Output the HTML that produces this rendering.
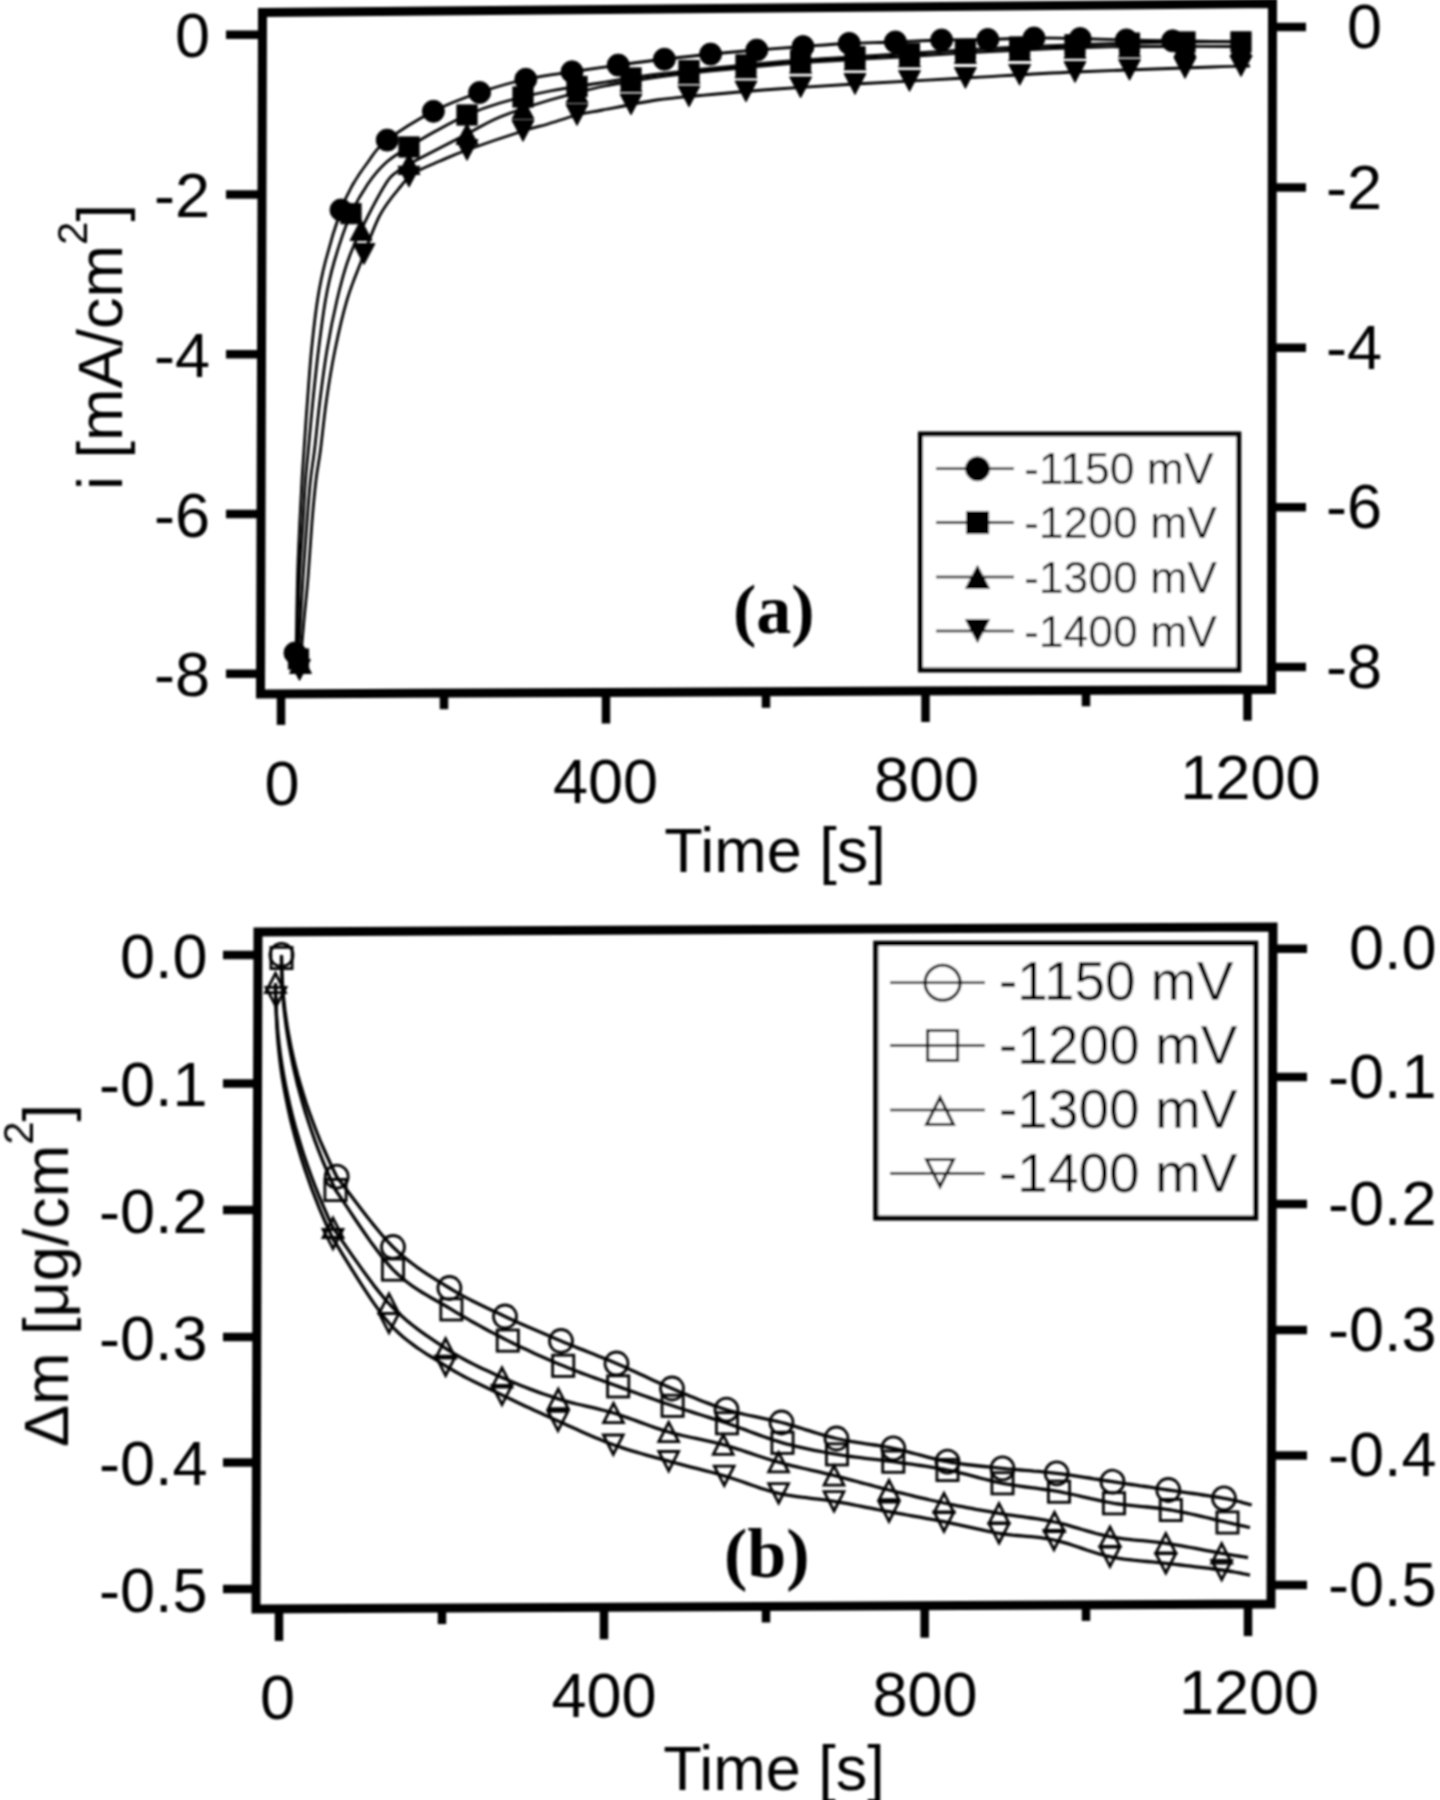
<!DOCTYPE html><html><head><meta charset="utf-8"><title>Figure</title><style>html,body{margin:0;padding:0;background:#fff;}svg{display:block}text{font-family:"Liberation Sans",Arial,sans-serif;fill:#000}.ser{font-family:"Liberation Serif","Times New Roman",serif;font-weight:bold}</style></head><body>
<svg width="1440" height="1800" viewBox="0 0 1440 1800">
<defs><filter id="soft" x="0" y="0" width="100%" height="100%"><feGaussianBlur stdDeviation="1"/></filter></defs>
<rect width="1440" height="1800" fill="#fff"/>
<g filter="url(#soft)">
<path d="M262.5,12.5 L1272.5,3.5 L1271.5,689.5 L260.5,694.0 Z" fill="none" stroke="#000" stroke-width="9.0" stroke-linejoin="miter"/>
<line x1="226.0" y1="34.7" x2="261.9" y2="34.7" stroke="#000" stroke-width="8.5" stroke-linecap="butt"/>
<text x="210.0" y="57.2" font-size="63.0" text-anchor="end">0</text>
<line x1="226.0" y1="194.4" x2="261.5" y2="194.4" stroke="#000" stroke-width="8.5" stroke-linecap="butt"/>
<text x="210.0" y="216.9" font-size="63.0" text-anchor="end">-2</text>
<line x1="226.0" y1="354.2" x2="261.0" y2="354.2" stroke="#000" stroke-width="8.5" stroke-linecap="butt"/>
<text x="210.0" y="376.7" font-size="63.0" text-anchor="end">-4</text>
<line x1="226.0" y1="514.0" x2="260.5" y2="514.0" stroke="#000" stroke-width="8.5" stroke-linecap="butt"/>
<text x="210.0" y="536.5" font-size="63.0" text-anchor="end">-6</text>
<line x1="226.0" y1="673.8" x2="260.1" y2="673.8" stroke="#000" stroke-width="8.5" stroke-linecap="butt"/>
<text x="210.0" y="696.3" font-size="63.0" text-anchor="end">-8</text>
<line x1="1272.0" y1="27.0" x2="1306.0" y2="27.0" stroke="#000" stroke-width="8.5" stroke-linecap="butt"/>
<text x="1382.0" y="48.0" font-size="63.0" text-anchor="end">0</text>
<line x1="1271.7" y1="187.5" x2="1306.0" y2="187.5" stroke="#000" stroke-width="8.5" stroke-linecap="butt"/>
<text x="1382.0" y="208.5" font-size="63.0" text-anchor="end">-2</text>
<line x1="1271.5" y1="347.8" x2="1306.0" y2="347.8" stroke="#000" stroke-width="8.5" stroke-linecap="butt"/>
<text x="1382.0" y="368.8" font-size="63.0" text-anchor="end">-4</text>
<line x1="1271.3" y1="507.2" x2="1306.0" y2="507.2" stroke="#000" stroke-width="8.5" stroke-linecap="butt"/>
<text x="1382.0" y="528.2" font-size="63.0" text-anchor="end">-6</text>
<line x1="1271.0" y1="667.0" x2="1306.0" y2="667.0" stroke="#000" stroke-width="8.5" stroke-linecap="butt"/>
<text x="1382.0" y="688.0" font-size="63.0" text-anchor="end">-8</text>
<line x1="281.0" y1="693.9" x2="281.0" y2="724.9" stroke="#000" stroke-width="8.5" stroke-linecap="butt"/>
<line x1="444.0" y1="693.2" x2="444.0" y2="709.2" stroke="#000" stroke-width="8.5" stroke-linecap="butt"/>
<line x1="606.0" y1="692.5" x2="606.0" y2="723.5" stroke="#000" stroke-width="8.5" stroke-linecap="butt"/>
<line x1="766.0" y1="691.8" x2="766.0" y2="707.8" stroke="#000" stroke-width="8.5" stroke-linecap="butt"/>
<line x1="925.5" y1="691.0" x2="925.5" y2="722.0" stroke="#000" stroke-width="8.5" stroke-linecap="butt"/>
<line x1="1086.0" y1="690.3" x2="1086.0" y2="706.3" stroke="#000" stroke-width="8.5" stroke-linecap="butt"/>
<line x1="1247.5" y1="689.6" x2="1247.5" y2="720.6" stroke="#000" stroke-width="8.5" stroke-linecap="butt"/>
<text x="282.0" y="805.0" font-size="63.0" text-anchor="middle">0</text>
<text x="605.6" y="802.8" font-size="63.0" text-anchor="middle">400</text>
<text x="926.5" y="800.7" font-size="63.0" text-anchor="middle">800</text>
<text x="1250.4" y="798.5" font-size="63.0" text-anchor="middle">1200</text>
<text x="775.0" y="872.0" font-size="63.0" text-anchor="middle">Time [s]</text>
<text transform="translate(122,347) rotate(-90)" x="0" y="0" font-size="63" text-anchor="middle">i [mA/cm<tspan font-size="42" dy="-35">2</tspan><tspan dy="35">]</tspan></text>
<path d="M296.0,657.0 C296.2,643.8 296.9,600.5 297.5,578.0 C298.1,555.5 299.1,538.3 299.8,522.0 C300.6,505.7 301.3,492.0 302.0,480.0 C302.7,468.0 303.1,463.3 304.0,450.0 C304.9,436.7 306.2,416.7 307.5,400.0 C308.8,383.3 309.8,366.7 311.5,350.0 C313.2,333.3 315.2,314.8 317.5,300.0 C319.8,285.2 321.6,276.0 325.5,261.0 C329.4,246.0 336.6,222.5 341.0,210.0 C345.4,197.5 347.5,194.0 352.0,186.0 C356.5,178.0 362.3,169.5 368.0,162.0 C373.7,154.5 375.0,149.5 386.0,141.0 C397.0,132.5 418.2,119.2 434.0,111.0 C449.8,102.8 465.5,97.3 481.0,92.0 C496.5,86.7 511.5,82.4 527.0,79.0 C542.5,75.6 558.7,73.8 574.0,71.5 C589.3,69.2 603.7,67.1 619.0,65.0 C634.3,62.9 650.5,60.8 666.0,59.0 C681.5,57.2 696.7,55.5 712.0,54.0 C727.3,52.5 742.7,51.2 758.0,50.0 C773.3,48.8 789.0,47.6 804.0,46.5 C819.0,45.4 833.0,44.2 848.0,43.5 C863.0,42.8 878.3,42.6 894.0,42.0 C909.7,41.4 926.5,40.4 942.0,40.0 C957.5,39.6 972.2,39.8 987.0,39.5 C1001.8,39.2 1016.2,38.2 1031.0,38.0 C1045.8,37.8 1059.5,38.2 1076.0,38.5 C1092.5,38.8 1111.8,39.6 1130.0,40.0 C1148.2,40.4 1165.0,40.7 1185.0,41.0 C1205.0,41.3 1239.2,41.8 1250.0,42.0" fill="none" stroke="#000" stroke-width="2.8" stroke-linejoin="round"/>
<path d="M297.0,660.0 C297.4,646.3 298.5,601.0 299.5,578.0 C300.5,555.0 302.0,538.3 303.0,522.0 C304.0,505.7 304.6,492.0 305.5,480.0 C306.4,468.0 307.1,463.3 308.3,450.0 C309.6,436.7 311.3,416.7 313.0,400.0 C314.7,383.3 316.4,366.7 318.5,350.0 C320.6,333.3 322.9,314.8 325.5,300.0 C328.1,285.2 330.3,275.0 334.4,261.0 C338.5,247.0 344.4,228.8 350.0,216.0 C355.6,203.2 361.7,193.0 367.8,184.0 C373.9,175.0 379.8,168.2 386.7,162.0 C393.6,155.8 401.1,152.0 409.0,147.0 C416.9,142.0 424.3,137.3 434.0,132.0 C443.7,126.7 456.0,119.8 467.0,115.0 C478.0,110.2 486.2,107.0 500.0,103.0 C513.8,99.0 533.3,94.3 550.0,91.0 C566.7,87.7 583.2,85.7 600.0,83.0 C616.8,80.3 634.3,77.2 651.0,75.0 C667.7,72.8 678.8,71.7 700.0,69.5 C721.2,67.3 756.7,63.8 778.0,62.0 C799.3,60.2 807.7,59.8 828.0,58.5 C848.3,57.2 871.3,55.8 900.0,54.0 C928.7,52.2 966.7,49.7 1000.0,48.0 C1033.3,46.3 1069.2,45.0 1100.0,44.0 C1130.8,43.0 1160.0,42.3 1185.0,42.0 C1210.0,41.7 1239.2,42.0 1250.0,42.0" fill="none" stroke="#000" stroke-width="2.8" stroke-linejoin="round"/>
<path d="M298.0,663.0 C298.8,648.8 301.5,601.5 303.0,578.0 C304.5,554.5 305.8,538.3 307.0,522.0 C308.2,505.7 309.2,492.0 310.5,480.0 C311.8,468.0 312.9,463.3 314.5,450.0 C316.1,436.7 317.9,416.7 320.0,400.0 C322.1,383.3 324.2,366.7 327.0,350.0 C329.8,333.3 333.5,314.8 337.0,300.0 C340.5,285.2 343.6,273.0 347.8,261.0 C352.0,249.0 355.7,240.8 362.0,228.0 C368.3,215.2 379.8,193.3 385.6,184.0 C391.4,174.7 392.5,175.5 396.7,172.0 C400.9,168.5 399.3,169.3 411.0,163.0 C422.7,156.7 452.2,141.7 467.0,134.0 C481.8,126.3 486.2,122.7 500.0,117.0 C513.8,111.3 533.3,105.0 550.0,100.0 C566.7,95.0 583.2,90.7 600.0,87.0 C616.8,83.3 634.3,80.5 651.0,78.0 C667.7,75.5 678.8,74.2 700.0,72.0 C721.2,69.8 756.7,66.3 778.0,64.5 C799.3,62.7 807.7,62.2 828.0,61.0 C848.3,59.8 871.3,58.7 900.0,57.0 C928.7,55.3 966.7,52.7 1000.0,51.0 C1033.3,49.3 1069.2,47.8 1100.0,47.0 C1130.8,46.2 1160.0,46.6 1185.0,46.5 C1210.0,46.4 1239.2,46.5 1250.0,46.5" fill="none" stroke="#000" stroke-width="2.8" stroke-linejoin="round"/>
<path d="M300.0,666.0 C300.7,658.3 302.7,634.7 304.0,620.0 C305.3,605.3 306.7,594.3 308.0,578.0 C309.3,561.7 310.7,538.3 312.0,522.0 C313.3,505.7 314.6,492.0 316.0,480.0 C317.4,468.0 318.8,463.3 320.5,450.0 C322.2,436.7 324.1,416.7 326.5,400.0 C328.9,383.3 331.6,366.7 335.0,350.0 C338.4,333.3 342.7,314.7 347.0,300.0 C351.3,285.3 355.5,276.2 361.0,262.0 C366.5,247.8 373.3,227.7 380.0,215.0 C386.7,202.3 395.3,193.0 401.0,186.0 C406.7,179.0 407.5,177.2 414.0,173.0 C420.5,168.8 431.2,164.8 440.0,161.0 C448.8,157.2 453.2,155.0 467.0,150.0 C480.8,145.0 509.5,135.3 523.0,131.0 C536.5,126.7 539.0,126.7 548.0,124.0 C557.0,121.3 567.9,117.3 577.0,115.0 C586.1,112.7 589.2,112.5 602.5,110.0 C615.8,107.5 640.4,102.4 656.6,100.0 C672.9,97.6 679.9,97.3 700.0,95.5 C720.1,93.7 751.2,90.9 777.0,89.0 C802.8,87.1 823.7,85.8 855.0,84.0 C886.3,82.2 928.3,80.0 965.0,78.0 C1001.7,76.0 1033.8,73.8 1075.0,72.0 C1116.2,70.2 1182.8,68.0 1212.0,67.0 C1241.2,66.0 1243.7,66.2 1250.0,66.0" fill="none" stroke="#000" stroke-width="2.8" stroke-linejoin="round"/>
<polygon points="299.5,680.5 310.5,659.5 288.5,659.5" fill="#000" stroke="#000" stroke-width="1.0" stroke-linejoin="miter"/>
<polygon points="300.5,652.5 311.5,673.5 289.5,673.5" fill="#000" stroke="#000" stroke-width="1.0" stroke-linejoin="miter"/>
<rect x="288.4" y="648.9" width="20.2" height="20.2" fill="#000" stroke="#000" stroke-width="1.0"/>
<circle cx="295.0" cy="653.0" r="11.0" fill="#000" stroke="#000" stroke-width="1.0"/>
<polygon points="364.0,264.5 375.0,243.6 353.0,243.6" fill="#000" stroke="#000" stroke-width="1.0" stroke-linejoin="miter"/>
<polygon points="361.0,219.6 372.0,240.5 350.0,240.5" fill="#000" stroke="#000" stroke-width="1.0" stroke-linejoin="miter"/>
<rect x="340.9" y="203.6" width="20.2" height="20.2" fill="#000" stroke="#000" stroke-width="1.0"/>
<polygon points="409.0,187.1 420.0,166.2 398.0,166.2" fill="#000" stroke="#000" stroke-width="1.0" stroke-linejoin="miter"/>
<polygon points="409.0,153.6 420.0,174.5 398.0,174.5" fill="#000" stroke="#000" stroke-width="1.0" stroke-linejoin="miter"/>
<rect x="398.9" y="136.9" width="20.2" height="20.2" fill="#000" stroke="#000" stroke-width="1.0"/>
<polygon points="467.0,160.4 478.0,139.6 456.0,139.6" fill="#000" stroke="#000" stroke-width="1.0" stroke-linejoin="miter"/>
<polygon points="467.0,123.5 478.0,144.4 456.0,144.4" fill="#000" stroke="#000" stroke-width="1.0" stroke-linejoin="miter"/>
<rect x="456.9" y="104.9" width="20.2" height="20.2" fill="#000" stroke="#000" stroke-width="1.0"/>
<polygon points="523.0,141.4 534.0,120.5 512.0,120.5" fill="#000" stroke="#000" stroke-width="1.0" stroke-linejoin="miter"/>
<polygon points="523.0,98.1 534.0,119.0 512.0,119.0" fill="#000" stroke="#000" stroke-width="1.0" stroke-linejoin="miter"/>
<rect x="512.9" y="86.9" width="20.2" height="20.2" fill="#000" stroke="#000" stroke-width="1.0"/>
<polygon points="577.0,125.5 588.0,104.5 566.0,104.5" fill="#000" stroke="#000" stroke-width="1.0" stroke-linejoin="miter"/>
<polygon points="577.0,82.0 588.0,102.9 566.0,102.9" fill="#000" stroke="#000" stroke-width="1.0" stroke-linejoin="miter"/>
<rect x="566.9" y="76.3" width="20.2" height="20.2" fill="#000" stroke="#000" stroke-width="1.0"/>
<polygon points="631.0,114.9 642.0,94.0 620.0,94.0" fill="#000" stroke="#000" stroke-width="1.0" stroke-linejoin="miter"/>
<polygon points="631.0,70.7 642.0,91.6 620.0,91.6" fill="#000" stroke="#000" stroke-width="1.0" stroke-linejoin="miter"/>
<rect x="620.9" y="67.9" width="20.2" height="20.2" fill="#000" stroke="#000" stroke-width="1.0"/>
<polygon points="689.0,106.9 700.0,86.0 678.0,86.0" fill="#000" stroke="#000" stroke-width="1.0" stroke-linejoin="miter"/>
<polygon points="689.0,62.7 700.0,83.6 678.0,83.6" fill="#000" stroke="#000" stroke-width="1.0" stroke-linejoin="miter"/>
<rect x="678.9" y="60.5" width="20.2" height="20.2" fill="#000" stroke="#000" stroke-width="1.0"/>
<polygon points="746.0,101.9 757.0,81.0 735.0,81.0" fill="#000" stroke="#000" stroke-width="1.0" stroke-linejoin="miter"/>
<polygon points="746.0,57.0 757.0,77.9 735.0,77.9" fill="#000" stroke="#000" stroke-width="1.0" stroke-linejoin="miter"/>
<rect x="735.9" y="54.8" width="20.2" height="20.2" fill="#000" stroke="#000" stroke-width="1.0"/>
<polygon points="800.6,97.8 811.6,76.9 789.6,76.9" fill="#000" stroke="#000" stroke-width="1.0" stroke-linejoin="miter"/>
<polygon points="800.6,52.3 811.6,73.2 789.6,73.2" fill="#000" stroke="#000" stroke-width="1.0" stroke-linejoin="miter"/>
<rect x="790.5" y="50.1" width="20.2" height="20.2" fill="#000" stroke="#000" stroke-width="1.0"/>
<polygon points="855.0,94.5 866.0,73.5 844.0,73.5" fill="#000" stroke="#000" stroke-width="1.0" stroke-linejoin="miter"/>
<polygon points="855.0,49.0 866.0,69.9 844.0,69.9" fill="#000" stroke="#000" stroke-width="1.0" stroke-linejoin="miter"/>
<rect x="844.9" y="46.7" width="20.2" height="20.2" fill="#000" stroke="#000" stroke-width="1.0"/>
<polygon points="909.5,91.4 920.5,70.5 898.5,70.5" fill="#000" stroke="#000" stroke-width="1.0" stroke-linejoin="miter"/>
<polygon points="909.5,46.0 920.5,66.9 898.5,66.9" fill="#000" stroke="#000" stroke-width="1.0" stroke-linejoin="miter"/>
<rect x="899.4" y="43.3" width="20.2" height="20.2" fill="#000" stroke="#000" stroke-width="1.0"/>
<polygon points="965.4,88.4 976.4,67.5 954.4,67.5" fill="#000" stroke="#000" stroke-width="1.0" stroke-linejoin="miter"/>
<polygon points="965.4,42.5 976.4,63.4 954.4,63.4" fill="#000" stroke="#000" stroke-width="1.0" stroke-linejoin="miter"/>
<rect x="955.3" y="39.8" width="20.2" height="20.2" fill="#000" stroke="#000" stroke-width="1.0"/>
<polygon points="1019.7,85.3 1030.7,64.4 1008.7,64.4" fill="#000" stroke="#000" stroke-width="1.0" stroke-linejoin="miter"/>
<polygon points="1019.7,39.6 1030.7,60.5 1008.7,60.5" fill="#000" stroke="#000" stroke-width="1.0" stroke-linejoin="miter"/>
<rect x="1009.6" y="36.9" width="20.2" height="20.2" fill="#000" stroke="#000" stroke-width="1.0"/>
<polygon points="1075.0,82.5 1086.0,61.5 1064.0,61.5" fill="#000" stroke="#000" stroke-width="1.0" stroke-linejoin="miter"/>
<polygon points="1075.0,37.3 1086.0,58.2 1064.0,58.2" fill="#000" stroke="#000" stroke-width="1.0" stroke-linejoin="miter"/>
<rect x="1064.9" y="34.7" width="20.2" height="20.2" fill="#000" stroke="#000" stroke-width="1.0"/>
<polygon points="1129.5,80.3 1140.5,59.4 1118.5,59.4" fill="#000" stroke="#000" stroke-width="1.0" stroke-linejoin="miter"/>
<polygon points="1129.5,36.1 1140.5,57.0 1118.5,57.0" fill="#000" stroke="#000" stroke-width="1.0" stroke-linejoin="miter"/>
<rect x="1119.4" y="33.0" width="20.2" height="20.2" fill="#000" stroke="#000" stroke-width="1.0"/>
<polygon points="1185.0,78.4 1196.0,57.5 1174.0,57.5" fill="#000" stroke="#000" stroke-width="1.0" stroke-linejoin="miter"/>
<polygon points="1185.0,36.0 1196.0,57.0 1174.0,57.0" fill="#000" stroke="#000" stroke-width="1.0" stroke-linejoin="miter"/>
<rect x="1174.9" y="31.9" width="20.2" height="20.2" fill="#000" stroke="#000" stroke-width="1.0"/>
<polygon points="1241.0,76.6 1252.0,55.7 1230.0,55.7" fill="#000" stroke="#000" stroke-width="1.0" stroke-linejoin="miter"/>
<polygon points="1241.0,36.0 1252.0,56.9 1230.0,56.9" fill="#000" stroke="#000" stroke-width="1.0" stroke-linejoin="miter"/>
<rect x="1230.9" y="31.8" width="20.2" height="20.2" fill="#000" stroke="#000" stroke-width="1.0"/>
<circle cx="341.0" cy="210.0" r="11.0" fill="#000" stroke="#000" stroke-width="1.0"/>
<circle cx="387.2" cy="140.1" r="11.0" fill="#000" stroke="#000" stroke-width="1.0"/>
<circle cx="433.4" cy="111.3" r="11.0" fill="#000" stroke="#000" stroke-width="1.0"/>
<circle cx="479.6" cy="92.5" r="11.0" fill="#000" stroke="#000" stroke-width="1.0"/>
<circle cx="525.8" cy="79.3" r="11.0" fill="#000" stroke="#000" stroke-width="1.0"/>
<circle cx="572.0" cy="71.8" r="11.0" fill="#000" stroke="#000" stroke-width="1.0"/>
<circle cx="618.2" cy="65.1" r="11.0" fill="#000" stroke="#000" stroke-width="1.0"/>
<circle cx="664.4" cy="59.2" r="11.0" fill="#000" stroke="#000" stroke-width="1.0"/>
<circle cx="710.6" cy="54.1" r="11.0" fill="#000" stroke="#000" stroke-width="1.0"/>
<circle cx="756.8" cy="50.1" r="11.0" fill="#000" stroke="#000" stroke-width="1.0"/>
<circle cx="803.0" cy="46.6" r="11.0" fill="#000" stroke="#000" stroke-width="1.0"/>
<circle cx="849.2" cy="43.4" r="11.0" fill="#000" stroke="#000" stroke-width="1.0"/>
<circle cx="895.4" cy="41.9" r="11.0" fill="#000" stroke="#000" stroke-width="1.0"/>
<circle cx="941.6" cy="40.0" r="11.0" fill="#000" stroke="#000" stroke-width="1.0"/>
<circle cx="987.8" cy="39.5" r="11.0" fill="#000" stroke="#000" stroke-width="1.0"/>
<circle cx="1034.0" cy="38.0" r="11.0" fill="#000" stroke="#000" stroke-width="1.0"/>
<circle cx="1080.2" cy="38.6" r="11.0" fill="#000" stroke="#000" stroke-width="1.0"/>
<circle cx="1126.4" cy="39.9" r="11.0" fill="#000" stroke="#000" stroke-width="1.0"/>
<circle cx="1172.6" cy="40.8" r="11.0" fill="#000" stroke="#000" stroke-width="1.0"/>
<rect x="920.4" y="434" width="318.4" height="236" fill="#fff" stroke="#000" stroke-width="5"/>
<line x1="936.0" y1="468.8" x2="1014.0" y2="468.8" stroke="#000" stroke-width="2.6" stroke-linecap="butt"/>
<circle cx="977.5" cy="468.8" r="12.0" fill="#000" stroke="#000" stroke-width="1.0"/>
<text x="1024.0" y="484.2" font-size="44.5" text-anchor="start">-1150 mV</text>
<line x1="936.0" y1="522.5" x2="1014.0" y2="522.5" stroke="#000" stroke-width="2.6" stroke-linecap="butt"/>
<rect x="966.5" y="511.5" width="22.1" height="22.1" fill="#000" stroke="#000" stroke-width="1.0"/>
<text x="1024.0" y="538.0" font-size="44.5" text-anchor="start">-1200 mV</text>
<line x1="936.0" y1="577.0" x2="1014.0" y2="577.0" stroke="#000" stroke-width="2.6" stroke-linecap="butt"/>
<polygon points="977.5,565.6 989.5,588.4 965.5,588.4" fill="#000" stroke="#000" stroke-width="1.0" stroke-linejoin="miter"/>
<text x="1024.0" y="592.5" font-size="44.5" text-anchor="start">-1300 mV</text>
<line x1="936.0" y1="631.0" x2="1014.0" y2="631.0" stroke="#000" stroke-width="2.6" stroke-linecap="butt"/>
<polygon points="977.5,642.4 989.5,619.6 965.5,619.6" fill="#000" stroke="#000" stroke-width="1.0" stroke-linejoin="miter"/>
<text x="1024.0" y="646.5" font-size="44.5" text-anchor="start">-1400 mV</text>
<text class="ser" x="733" y="633" font-size="70">(a)</text>
<path d="M258.0,932.0 L1273.0,927.0 L1271.0,1604.0 L256.0,1609.0 Z" fill="none" stroke="#000" stroke-width="9.0" stroke-linejoin="miter"/>
<line x1="223.0" y1="955.0" x2="257.9" y2="955.0" stroke="#000" stroke-width="8.5" stroke-linecap="butt"/>
<text x="207.5" y="977.5" font-size="63.0" text-anchor="end">0.0</text>
<line x1="223.0" y1="1083.5" x2="257.6" y2="1083.5" stroke="#000" stroke-width="8.5" stroke-linecap="butt"/>
<text x="207.5" y="1106.0" font-size="63.0" text-anchor="end">-0.1</text>
<line x1="223.0" y1="1210.0" x2="257.2" y2="1210.0" stroke="#000" stroke-width="8.5" stroke-linecap="butt"/>
<text x="207.5" y="1232.5" font-size="63.0" text-anchor="end">-0.2</text>
<line x1="223.0" y1="1337.0" x2="256.8" y2="1337.0" stroke="#000" stroke-width="8.5" stroke-linecap="butt"/>
<text x="207.5" y="1359.5" font-size="63.0" text-anchor="end">-0.3</text>
<line x1="223.0" y1="1462.5" x2="256.4" y2="1462.5" stroke="#000" stroke-width="8.5" stroke-linecap="butt"/>
<text x="207.5" y="1485.0" font-size="63.0" text-anchor="end">-0.4</text>
<line x1="223.0" y1="1589.0" x2="256.1" y2="1589.0" stroke="#000" stroke-width="8.5" stroke-linecap="butt"/>
<text x="207.5" y="1611.5" font-size="63.0" text-anchor="end">-0.5</text>
<line x1="1272.9" y1="948.7" x2="1307.0" y2="948.7" stroke="#000" stroke-width="8.5" stroke-linecap="butt"/>
<text x="1436.5" y="969.2" font-size="63.0" text-anchor="end">0.0</text>
<line x1="1272.6" y1="1077.0" x2="1307.0" y2="1077.0" stroke="#000" stroke-width="8.5" stroke-linecap="butt"/>
<text x="1436.5" y="1097.5" font-size="63.0" text-anchor="end">-0.1</text>
<line x1="1272.2" y1="1204.0" x2="1307.0" y2="1204.0" stroke="#000" stroke-width="8.5" stroke-linecap="butt"/>
<text x="1436.5" y="1224.5" font-size="63.0" text-anchor="end">-0.2</text>
<line x1="1271.8" y1="1330.0" x2="1307.0" y2="1330.0" stroke="#000" stroke-width="8.5" stroke-linecap="butt"/>
<text x="1436.5" y="1350.5" font-size="63.0" text-anchor="end">-0.3</text>
<line x1="1271.4" y1="1455.4" x2="1307.0" y2="1455.4" stroke="#000" stroke-width="8.5" stroke-linecap="butt"/>
<text x="1436.5" y="1475.9" font-size="63.0" text-anchor="end">-0.4</text>
<line x1="1271.1" y1="1585.0" x2="1307.0" y2="1585.0" stroke="#000" stroke-width="8.5" stroke-linecap="butt"/>
<text x="1436.5" y="1605.5" font-size="63.0" text-anchor="end">-0.5</text>
<line x1="279.0" y1="1608.9" x2="279.0" y2="1640.9" stroke="#000" stroke-width="8.5" stroke-linecap="butt"/>
<line x1="442.0" y1="1608.1" x2="442.0" y2="1624.1" stroke="#000" stroke-width="8.5" stroke-linecap="butt"/>
<line x1="604.0" y1="1607.3" x2="604.0" y2="1639.3" stroke="#000" stroke-width="8.5" stroke-linecap="butt"/>
<line x1="766.0" y1="1606.5" x2="766.0" y2="1622.5" stroke="#000" stroke-width="8.5" stroke-linecap="butt"/>
<line x1="924.7" y1="1605.7" x2="924.7" y2="1637.7" stroke="#000" stroke-width="8.5" stroke-linecap="butt"/>
<line x1="1086.0" y1="1604.9" x2="1086.0" y2="1620.9" stroke="#000" stroke-width="8.5" stroke-linecap="butt"/>
<line x1="1248.0" y1="1604.1" x2="1248.0" y2="1636.1" stroke="#000" stroke-width="8.5" stroke-linecap="butt"/>
<text x="277.4" y="1719.0" font-size="63.0" text-anchor="middle">0</text>
<text x="604.0" y="1717.4" font-size="63.0" text-anchor="middle">400</text>
<text x="925.0" y="1715.8" font-size="63.0" text-anchor="middle">800</text>
<text x="1249.0" y="1714.2" font-size="63.0" text-anchor="middle">1200</text>
<text x="774.0" y="1790.0" font-size="63.0" text-anchor="middle">Time [s]</text>
<text transform="translate(68,1275.5) rotate(-90)" x="0" y="0" font-size="63" text-anchor="middle">Δm [μg/cm<tspan font-size="42" dy="-35">2</tspan><tspan dy="35">]</tspan></text>
<path d="M281.5,955.0 L281.6,964.2 L281.9,973.5 L282.4,982.7 L283.0,992.0 L283.9,1001.2 L284.9,1010.4 L286.2,1019.7 L287.6,1028.9 L289.3,1038.1 L291.1,1047.4 L293.1,1056.6 L295.3,1065.8 L297.7,1075.1 L300.3,1084.3 L303.1,1093.6 L306.0,1102.8 L309.2,1112.0 L312.6,1121.3 L316.1,1130.5 L319.8,1139.8 L323.8,1149.0 L327.9,1158.2 L332.2,1167.5 L336.7,1176.7 L339.4,1180.2 L342.8,1184.7 L346.8,1190.0 L351.3,1196.0 L356.2,1202.5 L361.3,1209.3 L366.7,1216.2 L372.1,1223.1 L377.6,1229.8 L383.0,1236.2 L388.1,1241.9 L393.0,1247.0 L397.7,1251.5 L402.4,1255.7 L407.1,1259.6 L411.8,1263.3 L416.5,1266.8 L421.2,1270.1 L426.0,1273.3 L430.7,1276.3 L435.4,1279.3 L440.0,1282.2 L444.7,1285.1 L449.4,1288.0 L454.1,1290.8 L458.7,1293.5 L463.3,1296.1 L468.0,1298.6 L472.6,1301.0 L477.2,1303.3 L481.8,1305.5 L486.5,1307.8 L491.1,1309.9 L495.7,1312.1 L500.4,1314.3 L505.0,1316.5 L509.7,1318.7 L514.3,1320.8 L519.0,1323.0 L523.7,1325.0 L528.3,1327.1 L533.0,1329.1 L537.7,1331.1 L542.4,1333.1 L547.0,1335.1 L551.7,1337.1 L556.3,1339.0 L561.0,1341.0 L565.6,1342.9 L570.3,1344.8 L574.9,1346.7 L579.5,1348.6 L584.2,1350.4 L588.8,1352.2 L593.4,1354.0 L598.0,1355.9 L602.6,1357.7 L607.3,1359.6 L611.9,1361.5 L616.5,1363.5 L621.1,1365.5 L625.8,1367.6 L630.4,1369.7 L635.0,1371.8 L639.7,1373.9 L644.3,1376.1 L648.9,1378.2 L653.6,1380.4 L658.2,1382.5 L662.8,1384.5 L667.4,1386.5 L672.0,1388.5 L676.6,1390.4 L681.1,1392.4 L685.7,1394.3 L690.2,1396.2 L694.8,1398.0 L699.3,1399.9 L703.8,1401.7 L708.3,1403.4 L712.9,1405.1 L717.4,1406.7 L721.9,1408.2 L726.5,1409.7 L731.1,1411.1 L735.6,1412.3 L740.2,1413.4 L744.8,1414.5 L749.4,1415.5 L754.0,1416.4 L758.6,1417.4 L763.1,1418.3 L767.7,1419.3 L772.3,1420.3 L776.9,1421.3 L781.5,1422.5 L786.1,1423.7 L790.6,1425.1 L795.2,1426.4 L799.8,1427.8 L804.3,1429.3 L808.9,1430.7 L813.5,1432.1 L818.0,1433.5 L822.6,1434.9 L827.2,1436.2 L831.9,1437.4 L836.5,1438.5 L841.2,1439.5 L845.9,1440.5 L850.6,1441.3 L855.4,1442.1 L860.2,1442.8 L864.9,1443.6 L869.7,1444.3 L874.5,1445.0 L879.2,1445.7 L884.0,1446.5 L888.7,1447.4 L893.3,1448.3 L897.9,1449.3 L902.5,1450.4 L907.0,1451.6 L911.5,1452.8 L916.0,1454.0 L920.5,1455.2 L925.0,1456.4 L929.5,1457.6 L934.0,1458.7 L938.5,1459.8 L943.0,1460.8 L947.5,1461.7 L952.1,1462.5 L956.6,1463.2 L961.2,1463.9 L965.8,1464.5 L970.4,1465.0 L975.0,1465.5 L979.6,1466.0 L984.2,1466.5 L988.8,1466.9 L993.4,1467.4 L997.9,1467.8 L1002.5,1468.3 L1007.0,1468.8 L1011.6,1469.2 L1016.1,1469.6 L1020.6,1470.0 L1025.1,1470.3 L1029.6,1470.7 L1034.0,1471.1 L1038.5,1471.4 L1043.1,1471.8 L1047.6,1472.3 L1052.1,1472.8 L1056.7,1473.3 L1061.3,1473.9 L1065.9,1474.5 L1070.5,1475.2 L1075.2,1475.9 L1079.8,1476.6 L1084.5,1477.3 L1089.2,1478.0 L1093.8,1478.8 L1098.5,1479.5 L1103.2,1480.3 L1107.8,1481.0 L1112.5,1481.7 L1117.2,1482.4 L1121.8,1483.1 L1126.5,1483.8 L1131.1,1484.5 L1135.8,1485.2 L1140.4,1485.9 L1145.1,1486.5 L1149.7,1487.2 L1154.4,1487.9 L1159.0,1488.6 L1163.7,1489.3 L1168.3,1490.0 L1173.0,1490.7 L1177.9,1491.4 L1182.9,1492.1 L1187.9,1492.8 L1192.9,1493.5 L1197.9,1494.2 L1202.8,1495.0 L1207.5,1495.7 L1212.0,1496.3 L1216.3,1497.0 L1220.3,1497.7 L1224.0,1498.3 L1227.4,1498.9 L1230.6,1499.6 L1233.5,1500.2 L1236.3,1500.9 L1238.9,1501.5 L1241.3,1502.2 L1243.5,1502.8 L1245.6,1503.3 L1247.4,1503.8 L1249.0,1504.3 L1250.5,1504.7 L1251.7,1505.0" fill="none" stroke="#000" stroke-width="3.3" stroke-linejoin="round"/>
<path d="M281.5,958.0 L281.6,967.7 L281.9,977.3 L282.3,987.0 L283.0,996.7 L283.8,1006.3 L284.9,1016.0 L286.1,1025.7 L287.5,1035.3 L289.1,1045.0 L290.9,1054.7 L292.8,1064.3 L295.0,1074.0 L297.3,1083.7 L299.9,1093.3 L302.6,1103.0 L305.5,1112.7 L308.6,1122.3 L311.9,1132.0 L315.3,1141.7 L319.0,1151.3 L322.8,1161.0 L326.9,1170.7 L331.1,1180.3 L335.5,1190.0 L338.3,1194.0 L341.7,1199.1 L345.8,1205.2 L350.4,1212.1 L355.3,1219.5 L360.6,1227.3 L366.1,1235.2 L371.6,1243.1 L377.2,1250.6 L382.7,1257.7 L388.0,1264.1 L393.0,1269.6 L397.8,1274.3 L402.7,1278.6 L407.6,1282.5 L412.5,1286.1 L417.4,1289.4 L422.3,1292.5 L427.2,1295.4 L432.0,1298.2 L436.9,1301.0 L441.8,1303.7 L446.6,1306.5 L451.4,1309.4 L456.2,1312.3 L460.9,1315.2 L465.7,1317.9 L470.4,1320.7 L475.1,1323.3 L479.8,1325.9 L484.5,1328.5 L489.1,1331.0 L493.8,1333.4 L498.5,1335.8 L503.1,1338.2 L507.8,1340.6 L512.5,1342.9 L517.1,1345.2 L521.7,1347.4 L526.4,1349.6 L531.0,1351.8 L535.6,1353.9 L540.2,1355.9 L544.8,1358.0 L549.4,1360.0 L554.0,1361.9 L558.6,1363.9 L563.2,1365.8 L567.8,1367.7 L572.4,1369.5 L577.0,1371.3 L581.6,1373.1 L586.2,1374.8 L590.8,1376.5 L595.3,1378.1 L599.9,1379.8 L604.5,1381.4 L609.1,1383.1 L613.6,1384.7 L618.2,1386.4 L622.8,1388.1 L627.3,1389.7 L631.8,1391.4 L636.4,1393.0 L640.9,1394.7 L645.4,1396.3 L650.0,1397.9 L654.5,1399.5 L659.0,1401.1 L663.5,1402.7 L668.1,1404.3 L672.6,1405.8 L677.1,1407.3 L681.7,1408.8 L686.2,1410.3 L690.7,1411.7 L695.2,1413.1 L699.7,1414.5 L704.3,1416.0 L708.8,1417.4 L713.3,1418.8 L717.9,1420.3 L722.4,1421.8 L727.0,1423.3 L731.6,1424.9 L736.2,1426.5 L740.8,1428.2 L745.5,1429.9 L750.1,1431.7 L754.7,1433.4 L759.4,1435.1 L764.0,1436.8 L768.7,1438.4 L773.3,1440.0 L777.9,1441.4 L782.5,1442.8 L787.1,1444.1 L791.6,1445.2 L796.2,1446.4 L800.7,1447.4 L805.2,1448.4 L809.7,1449.4 L814.2,1450.3 L818.7,1451.1 L823.3,1452.0 L827.8,1452.8 L832.4,1453.6 L837.0,1454.4 L841.6,1455.2 L846.3,1455.9 L851.0,1456.5 L855.7,1457.1 L860.4,1457.7 L865.2,1458.3 L869.9,1458.8 L874.6,1459.4 L879.3,1459.9 L884.0,1460.5 L888.7,1461.1 L893.3,1461.7 L897.9,1462.3 L902.4,1463.0 L907.0,1463.6 L911.5,1464.2 L916.0,1464.8 L920.5,1465.5 L925.0,1466.1 L929.5,1466.8 L933.9,1467.6 L938.4,1468.3 L943.0,1469.1 L947.5,1470.0 L952.1,1470.9 L956.6,1472.0 L961.2,1473.1 L965.7,1474.2 L970.3,1475.4 L974.9,1476.6 L979.4,1477.9 L984.0,1479.0 L988.6,1480.2 L993.2,1481.3 L997.9,1482.3 L1002.5,1483.3 L1007.2,1484.2 L1011.8,1484.9 L1016.6,1485.7 L1021.3,1486.3 L1026.0,1487.0 L1030.8,1487.6 L1035.5,1488.2 L1040.2,1488.8 L1044.9,1489.5 L1049.7,1490.2 L1054.3,1490.9 L1059.0,1491.7 L1063.6,1492.6 L1068.2,1493.5 L1072.8,1494.5 L1077.4,1495.5 L1081.9,1496.6 L1086.5,1497.6 L1091.0,1498.7 L1095.6,1499.7 L1100.2,1500.7 L1104.7,1501.6 L1109.4,1502.5 L1114.0,1503.3 L1118.7,1504.0 L1123.4,1504.6 L1128.1,1505.2 L1132.8,1505.7 L1137.5,1506.1 L1142.3,1506.6 L1147.0,1507.0 L1151.8,1507.5 L1156.6,1508.0 L1161.3,1508.6 L1166.1,1509.3 L1170.8,1510.0 L1175.6,1510.9 L1180.7,1511.8 L1185.8,1512.9 L1191.0,1514.0 L1196.2,1515.2 L1201.3,1516.4 L1206.3,1517.5 L1211.1,1518.7 L1215.7,1519.8 L1220.0,1520.8 L1224.0,1521.7 L1227.5,1522.5 L1230.6,1523.2 L1233.5,1523.8 L1236.1,1524.4 L1238.4,1524.9 L1240.4,1525.4 L1242.3,1525.8 L1244.0,1526.2 L1245.4,1526.5 L1246.8,1526.8 L1247.9,1527.0 L1249.0,1527.3 L1250.0,1527.5" fill="none" stroke="#000" stroke-width="3.3" stroke-linejoin="round"/>
<path d="M275.5,983.0 L275.6,993.2 L275.9,1003.4 L276.4,1013.6 L277.1,1023.8 L278.0,1034.0 L279.1,1044.2 L280.4,1054.4 L281.9,1064.6 L283.6,1074.8 L285.5,1085.0 L287.6,1095.2 L289.9,1105.4 L292.4,1115.6 L295.1,1125.8 L298.0,1136.0 L301.1,1146.2 L304.3,1156.4 L307.8,1166.6 L311.5,1176.8 L315.4,1187.0 L319.5,1197.2 L323.8,1207.4 L328.3,1217.6 L333.0,1227.8 L335.7,1231.6 L339.1,1236.4 L343.0,1242.1 L347.5,1248.6 L352.3,1255.6 L357.5,1262.9 L362.8,1270.4 L368.2,1277.8 L373.6,1285.1 L379.0,1291.9 L384.1,1298.1 L389.0,1303.6 L393.7,1308.5 L398.4,1313.0 L403.1,1317.3 L407.8,1321.4 L412.6,1325.2 L417.3,1328.9 L422.0,1332.3 L426.7,1335.7 L431.5,1338.9 L436.2,1342.1 L440.9,1345.2 L445.6,1348.3 L450.3,1351.3 L455.0,1354.2 L459.7,1356.9 L464.4,1359.5 L469.1,1362.0 L473.8,1364.4 L478.5,1366.7 L483.2,1368.9 L487.9,1371.1 L492.6,1373.3 L497.3,1375.4 L502.0,1377.5 L506.7,1379.6 L511.4,1381.6 L516.1,1383.6 L520.8,1385.5 L525.5,1387.3 L530.2,1389.1 L534.9,1390.9 L539.6,1392.6 L544.3,1394.2 L549.0,1395.8 L553.6,1397.4 L558.3,1398.9 L562.9,1400.3 L567.6,1401.6 L572.2,1402.8 L576.8,1404.0 L581.4,1405.0 L586.0,1406.1 L590.6,1407.1 L595.1,1408.2 L599.7,1409.3 L604.3,1410.5 L608.9,1411.7 L613.5,1413.0 L618.1,1414.4 L622.7,1416.0 L627.3,1417.6 L631.9,1419.2 L636.5,1420.9 L641.1,1422.6 L645.7,1424.3 L650.4,1426.0 L654.9,1427.6 L659.5,1429.1 L664.1,1430.6 L668.7,1432.0 L673.3,1433.3 L677.8,1434.4 L682.4,1435.5 L686.9,1436.5 L691.4,1437.5 L695.9,1438.4 L700.5,1439.4 L705.0,1440.3 L709.5,1441.3 L714.1,1442.4 L718.6,1443.5 L723.2,1444.7 L727.8,1446.0 L732.4,1447.4 L737.0,1448.8 L741.6,1450.3 L746.2,1451.9 L750.8,1453.4 L755.5,1455.0 L760.1,1456.5 L764.7,1458.0 L769.4,1459.5 L774.0,1460.9 L778.6,1462.2 L783.2,1463.5 L787.8,1464.6 L792.5,1465.8 L797.1,1466.9 L801.7,1468.0 L806.3,1469.0 L810.9,1470.1 L815.6,1471.1 L820.2,1472.2 L824.8,1473.3 L829.4,1474.4 L834.0,1475.5 L838.6,1476.7 L843.2,1477.9 L847.8,1479.1 L852.4,1480.3 L856.9,1481.5 L861.5,1482.8 L866.1,1484.0 L870.7,1485.2 L875.3,1486.5 L879.8,1487.7 L884.4,1488.8 L889.0,1490.0 L893.6,1491.1 L898.2,1492.3 L902.8,1493.4 L907.3,1494.5 L911.9,1495.7 L916.5,1496.8 L921.1,1497.9 L925.7,1498.9 L930.2,1500.0 L934.8,1501.0 L939.4,1502.0 L944.0,1503.0 L948.6,1504.0 L953.2,1504.9 L957.7,1505.8 L962.3,1506.7 L966.9,1507.6 L971.5,1508.4 L976.0,1509.3 L980.6,1510.1 L985.2,1510.9 L989.8,1511.7 L994.4,1512.5 L999.0,1513.3 L1003.6,1514.1 L1008.2,1514.8 L1012.8,1515.4 L1017.5,1516.1 L1022.1,1516.7 L1026.7,1517.4 L1031.3,1518.0 L1036.0,1518.7 L1040.6,1519.4 L1045.2,1520.2 L1049.9,1521.1 L1054.5,1522.0 L1059.1,1523.0 L1063.7,1524.2 L1068.4,1525.4 L1073.0,1526.8 L1077.6,1528.1 L1082.2,1529.5 L1086.9,1530.8 L1091.5,1532.2 L1096.1,1533.5 L1100.7,1534.6 L1105.4,1535.7 L1110.0,1536.7 L1114.6,1537.5 L1119.3,1538.2 L1123.9,1538.8 L1128.6,1539.4 L1133.2,1539.9 L1137.9,1540.3 L1142.5,1540.7 L1147.2,1541.1 L1151.8,1541.6 L1156.5,1542.1 L1161.1,1542.7 L1165.8,1543.3 L1170.5,1544.0 L1175.5,1544.8 L1180.5,1545.7 L1185.5,1546.6 L1190.6,1547.5 L1195.6,1548.4 L1200.5,1549.4 L1205.3,1550.3 L1209.8,1551.1 L1214.1,1551.9 L1218.1,1552.7 L1221.7,1553.3 L1225.0,1553.9 L1228.1,1554.4 L1231.0,1554.9 L1233.6,1555.3 L1236.1,1555.7 L1238.3,1556.0 L1240.4,1556.3 L1242.3,1556.6 L1244.0,1556.9 L1245.5,1557.1 L1246.8,1557.3 L1248.0,1557.5" fill="none" stroke="#000" stroke-width="3.3" stroke-linejoin="round"/>
<path d="M276.0,997.0 L276.1,1007.1 L276.4,1017.2 L276.9,1027.2 L277.6,1037.3 L278.5,1047.4 L279.6,1057.5 L280.8,1067.6 L282.3,1077.7 L284.0,1087.8 L285.9,1097.8 L288.0,1107.9 L290.2,1118.0 L292.7,1128.1 L295.4,1138.2 L298.3,1148.2 L301.3,1158.3 L304.6,1168.4 L308.1,1178.5 L311.7,1188.6 L315.6,1198.7 L319.6,1208.8 L323.9,1218.8 L328.3,1228.9 L333.0,1239.0 L335.7,1243.2 L339.1,1248.6 L343.0,1255.1 L347.5,1262.3 L352.3,1270.1 L357.5,1278.3 L362.8,1286.7 L368.2,1294.9 L373.6,1302.9 L379.0,1310.4 L384.1,1317.2 L389.0,1323.0 L393.7,1328.1 L398.4,1332.7 L403.1,1336.9 L407.8,1340.8 L412.6,1344.4 L417.3,1347.8 L422.0,1351.0 L426.7,1354.1 L431.5,1357.0 L436.2,1359.9 L440.9,1362.8 L445.6,1365.8 L450.3,1368.7 L455.0,1371.5 L459.7,1374.1 L464.4,1376.7 L469.1,1379.1 L473.8,1381.4 L478.5,1383.7 L483.2,1386.0 L487.9,1388.2 L492.6,1390.5 L497.3,1392.7 L502.0,1395.0 L506.7,1397.3 L511.4,1399.5 L516.0,1401.8 L520.7,1404.0 L525.4,1406.2 L530.1,1408.3 L534.7,1410.5 L539.4,1412.6 L544.1,1414.7 L548.7,1416.8 L553.4,1418.9 L558.0,1421.0 L562.6,1423.1 L567.3,1425.2 L571.9,1427.3 L576.5,1429.3 L581.1,1431.4 L585.7,1433.4 L590.3,1435.5 L594.9,1437.4 L599.5,1439.3 L604.1,1441.2 L608.7,1443.0 L613.3,1444.7 L617.9,1446.3 L622.5,1447.9 L627.1,1449.4 L631.8,1450.8 L636.4,1452.2 L641.0,1453.5 L645.6,1454.8 L650.2,1456.1 L654.8,1457.4 L659.5,1458.6 L664.1,1459.9 L668.7,1461.2 L673.3,1462.5 L678.0,1463.7 L682.6,1464.9 L687.2,1466.1 L691.9,1467.3 L696.5,1468.4 L701.1,1469.6 L705.8,1470.8 L710.4,1472.0 L715.0,1473.2 L719.6,1474.5 L724.2,1475.8 L728.8,1477.2 L733.3,1478.7 L737.9,1480.2 L742.4,1481.8 L746.9,1483.4 L751.4,1485.0 L755.9,1486.5 L760.4,1488.1 L765.0,1489.5 L769.5,1490.9 L774.0,1492.2 L778.6,1493.3 L783.2,1494.3 L787.8,1495.2 L792.4,1495.9 L797.0,1496.6 L801.6,1497.2 L806.3,1497.7 L810.9,1498.3 L815.5,1498.8 L820.2,1499.4 L824.8,1499.9 L829.4,1500.6 L834.0,1501.3 L838.6,1502.1 L843.2,1502.9 L847.8,1503.7 L852.4,1504.6 L856.9,1505.5 L861.5,1506.4 L866.1,1507.3 L870.7,1508.2 L875.3,1509.1 L879.8,1510.0 L884.4,1510.8 L889.0,1511.7 L893.6,1512.5 L898.2,1513.4 L902.8,1514.2 L907.3,1515.0 L911.9,1515.8 L916.5,1516.6 L921.1,1517.4 L925.7,1518.3 L930.2,1519.1 L934.8,1519.9 L939.4,1520.8 L944.0,1521.7 L948.6,1522.6 L953.2,1523.6 L957.8,1524.6 L962.3,1525.6 L966.9,1526.7 L971.5,1527.7 L976.1,1528.7 L980.7,1529.7 L985.2,1530.7 L989.8,1531.6 L994.4,1532.5 L999.0,1533.3 L1003.6,1534.0 L1008.2,1534.6 L1012.7,1535.1 L1017.3,1535.5 L1021.9,1535.9 L1026.4,1536.3 L1031.0,1536.7 L1035.6,1537.2 L1040.2,1537.7 L1044.8,1538.4 L1049.4,1539.1 L1054.0,1540.0 L1058.6,1541.1 L1063.3,1542.3 L1067.9,1543.7 L1072.6,1545.2 L1077.3,1546.8 L1082.0,1548.4 L1086.6,1550.0 L1091.3,1551.5 L1096.0,1553.0 L1100.7,1554.4 L1105.3,1555.6 L1110.0,1556.7 L1114.7,1557.6 L1119.3,1558.4 L1124.0,1559.1 L1128.6,1559.6 L1133.3,1560.2 L1137.9,1560.6 L1142.6,1561.1 L1147.2,1561.5 L1151.8,1561.9 L1156.5,1562.3 L1161.1,1562.8 L1165.8,1563.3 L1170.5,1563.9 L1175.4,1564.4 L1180.4,1565.0 L1185.4,1565.6 L1190.5,1566.2 L1195.5,1566.8 L1200.4,1567.3 L1205.1,1567.9 L1209.7,1568.4 L1214.0,1569.0 L1218.0,1569.5 L1221.7,1570.0 L1225.1,1570.5 L1228.3,1571.0 L1231.4,1571.5 L1234.2,1572.0 L1236.9,1572.5 L1239.3,1572.9 L1241.6,1573.4 L1243.7,1573.8 L1245.6,1574.1 L1247.2,1574.5 L1248.7,1574.8 L1250.0,1575.0" fill="none" stroke="#000" stroke-width="3.3" stroke-linejoin="round"/>
<circle cx="281.5" cy="955.0" r="11.5" fill="none" stroke="#000" stroke-width="2.8"/>
<circle cx="336.7" cy="1176.7" r="11.5" fill="none" stroke="#000" stroke-width="2.8"/>
<circle cx="393.0" cy="1247.0" r="11.5" fill="none" stroke="#000" stroke-width="2.8"/>
<circle cx="449.4" cy="1288.0" r="11.5" fill="none" stroke="#000" stroke-width="2.8"/>
<circle cx="505.0" cy="1316.5" r="11.5" fill="none" stroke="#000" stroke-width="2.8"/>
<circle cx="561.0" cy="1341.0" r="11.5" fill="none" stroke="#000" stroke-width="2.8"/>
<circle cx="616.5" cy="1363.5" r="11.5" fill="none" stroke="#000" stroke-width="2.8"/>
<circle cx="672.0" cy="1388.5" r="11.5" fill="none" stroke="#000" stroke-width="2.8"/>
<circle cx="726.5" cy="1409.7" r="11.5" fill="none" stroke="#000" stroke-width="2.8"/>
<circle cx="781.5" cy="1422.5" r="11.5" fill="none" stroke="#000" stroke-width="2.8"/>
<circle cx="836.5" cy="1438.5" r="11.5" fill="none" stroke="#000" stroke-width="2.8"/>
<circle cx="893.3" cy="1448.3" r="11.5" fill="none" stroke="#000" stroke-width="2.8"/>
<circle cx="947.5" cy="1461.7" r="11.5" fill="none" stroke="#000" stroke-width="2.8"/>
<circle cx="1002.5" cy="1468.3" r="11.5" fill="none" stroke="#000" stroke-width="2.8"/>
<circle cx="1056.7" cy="1473.3" r="11.5" fill="none" stroke="#000" stroke-width="2.8"/>
<circle cx="1112.5" cy="1481.7" r="11.5" fill="none" stroke="#000" stroke-width="2.8"/>
<circle cx="1168.3" cy="1490.0" r="11.5" fill="none" stroke="#000" stroke-width="2.8"/>
<circle cx="1224.0" cy="1498.3" r="11.5" fill="none" stroke="#000" stroke-width="2.8"/>
<rect x="270.9" y="947.4" width="21.2" height="21.2" fill="none" stroke="#000" stroke-width="2.8"/>
<rect x="324.9" y="1179.4" width="21.2" height="21.2" fill="none" stroke="#000" stroke-width="2.8"/>
<rect x="382.4" y="1259.0" width="21.2" height="21.2" fill="none" stroke="#000" stroke-width="2.8"/>
<rect x="440.8" y="1298.8" width="21.2" height="21.2" fill="none" stroke="#000" stroke-width="2.8"/>
<rect x="497.2" y="1330.0" width="21.2" height="21.2" fill="none" stroke="#000" stroke-width="2.8"/>
<rect x="552.6" y="1355.2" width="21.2" height="21.2" fill="none" stroke="#000" stroke-width="2.8"/>
<rect x="607.6" y="1375.8" width="21.2" height="21.2" fill="none" stroke="#000" stroke-width="2.8"/>
<rect x="662.0" y="1395.2" width="21.2" height="21.2" fill="none" stroke="#000" stroke-width="2.8"/>
<rect x="716.4" y="1412.7" width="21.2" height="21.2" fill="none" stroke="#000" stroke-width="2.8"/>
<rect x="771.9" y="1432.2" width="21.2" height="21.2" fill="none" stroke="#000" stroke-width="2.8"/>
<rect x="826.4" y="1443.8" width="21.2" height="21.2" fill="none" stroke="#000" stroke-width="2.8"/>
<rect x="882.7" y="1451.1" width="21.2" height="21.2" fill="none" stroke="#000" stroke-width="2.8"/>
<rect x="936.9" y="1459.4" width="21.2" height="21.2" fill="none" stroke="#000" stroke-width="2.8"/>
<rect x="991.9" y="1472.7" width="21.2" height="21.2" fill="none" stroke="#000" stroke-width="2.8"/>
<rect x="1048.4" y="1481.1" width="21.2" height="21.2" fill="none" stroke="#000" stroke-width="2.8"/>
<rect x="1103.4" y="1492.7" width="21.2" height="21.2" fill="none" stroke="#000" stroke-width="2.8"/>
<rect x="1160.2" y="1499.4" width="21.2" height="21.2" fill="none" stroke="#000" stroke-width="2.8"/>
<rect x="1216.9" y="1511.9" width="21.2" height="21.2" fill="none" stroke="#000" stroke-width="2.8"/>
<polygon points="275.5,973.3 285.4,992.7 265.6,992.7" fill="none" stroke="#000" stroke-width="2.8" stroke-linejoin="miter"/>
<polygon points="333.0,1218.1 342.9,1237.5 323.1,1237.5" fill="none" stroke="#000" stroke-width="2.8" stroke-linejoin="miter"/>
<polygon points="389.0,1293.9 398.9,1313.3 379.1,1313.3" fill="none" stroke="#000" stroke-width="2.8" stroke-linejoin="miter"/>
<polygon points="445.6,1338.6 455.5,1358.0 435.7,1358.0" fill="none" stroke="#000" stroke-width="2.8" stroke-linejoin="miter"/>
<polygon points="502.0,1367.8 511.9,1387.2 492.1,1387.2" fill="none" stroke="#000" stroke-width="2.8" stroke-linejoin="miter"/>
<polygon points="558.3,1389.2 568.2,1408.6 548.4,1408.6" fill="none" stroke="#000" stroke-width="2.8" stroke-linejoin="miter"/>
<polygon points="613.5,1403.3 623.4,1422.7 603.6,1422.7" fill="none" stroke="#000" stroke-width="2.8" stroke-linejoin="miter"/>
<polygon points="668.7,1422.3 678.6,1441.7 658.8,1441.7" fill="none" stroke="#000" stroke-width="2.8" stroke-linejoin="miter"/>
<polygon points="723.2,1435.0 733.1,1454.4 713.3,1454.4" fill="none" stroke="#000" stroke-width="2.8" stroke-linejoin="miter"/>
<polygon points="778.6,1452.5 788.5,1471.9 768.7,1471.9" fill="none" stroke="#000" stroke-width="2.8" stroke-linejoin="miter"/>
<polygon points="834.0,1465.8 843.9,1485.2 824.1,1485.2" fill="none" stroke="#000" stroke-width="2.8" stroke-linejoin="miter"/>
<polygon points="889.0,1480.3 898.9,1499.7 879.1,1499.7" fill="none" stroke="#000" stroke-width="2.8" stroke-linejoin="miter"/>
<polygon points="944.0,1493.3 953.9,1512.7 934.1,1512.7" fill="none" stroke="#000" stroke-width="2.8" stroke-linejoin="miter"/>
<polygon points="999.0,1503.6 1008.9,1523.0 989.1,1523.0" fill="none" stroke="#000" stroke-width="2.8" stroke-linejoin="miter"/>
<polygon points="1054.5,1512.3 1064.4,1531.7 1044.6,1531.7" fill="none" stroke="#000" stroke-width="2.8" stroke-linejoin="miter"/>
<polygon points="1110.0,1527.0 1119.9,1546.4 1100.1,1546.4" fill="none" stroke="#000" stroke-width="2.8" stroke-linejoin="miter"/>
<polygon points="1165.8,1533.6 1175.7,1553.0 1155.9,1553.0" fill="none" stroke="#000" stroke-width="2.8" stroke-linejoin="miter"/>
<polygon points="1221.7,1543.6 1231.6,1563.0 1211.8,1563.0" fill="none" stroke="#000" stroke-width="2.8" stroke-linejoin="miter"/>
<polygon points="276.0,1006.7 285.9,987.3 266.1,987.3" fill="none" stroke="#000" stroke-width="2.8" stroke-linejoin="miter"/>
<polygon points="333.0,1248.7 342.9,1229.3 323.1,1229.3" fill="none" stroke="#000" stroke-width="2.8" stroke-linejoin="miter"/>
<polygon points="389.0,1332.7 398.9,1313.3 379.1,1313.3" fill="none" stroke="#000" stroke-width="2.8" stroke-linejoin="miter"/>
<polygon points="445.6,1375.5 455.5,1356.1 435.7,1356.1" fill="none" stroke="#000" stroke-width="2.8" stroke-linejoin="miter"/>
<polygon points="502.0,1404.7 511.9,1385.3 492.1,1385.3" fill="none" stroke="#000" stroke-width="2.8" stroke-linejoin="miter"/>
<polygon points="558.0,1430.7 567.9,1411.3 548.1,1411.3" fill="none" stroke="#000" stroke-width="2.8" stroke-linejoin="miter"/>
<polygon points="613.3,1454.4 623.2,1435.0 603.4,1435.0" fill="none" stroke="#000" stroke-width="2.8" stroke-linejoin="miter"/>
<polygon points="668.7,1470.9 678.6,1451.5 658.8,1451.5" fill="none" stroke="#000" stroke-width="2.8" stroke-linejoin="miter"/>
<polygon points="724.2,1485.5 734.1,1466.1 714.3,1466.1" fill="none" stroke="#000" stroke-width="2.8" stroke-linejoin="miter"/>
<polygon points="778.6,1503.0 788.5,1483.6 768.7,1483.6" fill="none" stroke="#000" stroke-width="2.8" stroke-linejoin="miter"/>
<polygon points="834.0,1511.0 843.9,1491.6 824.1,1491.6" fill="none" stroke="#000" stroke-width="2.8" stroke-linejoin="miter"/>
<polygon points="889.0,1521.4 898.9,1502.0 879.1,1502.0" fill="none" stroke="#000" stroke-width="2.8" stroke-linejoin="miter"/>
<polygon points="944.0,1531.4 953.9,1512.0 934.1,1512.0" fill="none" stroke="#000" stroke-width="2.8" stroke-linejoin="miter"/>
<polygon points="999.0,1543.0 1008.9,1523.6 989.1,1523.6" fill="none" stroke="#000" stroke-width="2.8" stroke-linejoin="miter"/>
<polygon points="1054.0,1549.7 1063.9,1530.3 1044.1,1530.3" fill="none" stroke="#000" stroke-width="2.8" stroke-linejoin="miter"/>
<polygon points="1110.0,1566.4 1119.9,1547.0 1100.1,1547.0" fill="none" stroke="#000" stroke-width="2.8" stroke-linejoin="miter"/>
<polygon points="1165.8,1573.0 1175.7,1553.6 1155.9,1553.6" fill="none" stroke="#000" stroke-width="2.8" stroke-linejoin="miter"/>
<polygon points="1221.7,1579.7 1231.6,1560.3 1211.8,1560.3" fill="none" stroke="#000" stroke-width="2.8" stroke-linejoin="miter"/>
<rect x="875.8" y="943.3" width="379.8" height="274.7" fill="#fff" stroke="#000" stroke-width="5.2"/>
<line x1="890.0" y1="982.7" x2="985.0" y2="982.7" stroke="#000" stroke-width="2.6" stroke-linecap="butt"/>
<circle cx="942.6" cy="982.7" r="17.5" fill="none" stroke="#000" stroke-width="3.0"/>
<text x="999.0" y="1000.0" font-size="55.0" text-anchor="start">-1150 mV</text>
<line x1="890.0" y1="1045.5" x2="985.0" y2="1045.5" stroke="#000" stroke-width="2.6" stroke-linecap="butt"/>
<rect x="927.6" y="1030.5" width="30.0" height="30.0" fill="none" stroke="#000" stroke-width="3.0"/>
<text x="999.0" y="1064.0" font-size="55.0" text-anchor="start">-1200 mV</text>
<line x1="890.0" y1="1110.0" x2="985.0" y2="1110.0" stroke="#000" stroke-width="2.6" stroke-linecap="butt"/>
<polygon points="940.0,1097.5 953.5,1124.5 926.5,1124.5" fill="none" stroke="#000" stroke-width="3.0" stroke-linejoin="miter"/>
<text x="999.0" y="1128.0" font-size="55.0" text-anchor="start">-1300 mV</text>
<line x1="890.0" y1="1173.4" x2="985.0" y2="1173.4" stroke="#000" stroke-width="2.6" stroke-linecap="butt"/>
<polygon points="940.0,1186.5 953.5,1159.5 926.5,1159.5" fill="none" stroke="#000" stroke-width="3.0" stroke-linejoin="miter"/>
<text x="999.0" y="1192.0" font-size="55.0" text-anchor="start">-1400 mV</text>
<text class="ser" x="724" y="1577" font-size="70">(b)</text>
</g></svg></body></html>
